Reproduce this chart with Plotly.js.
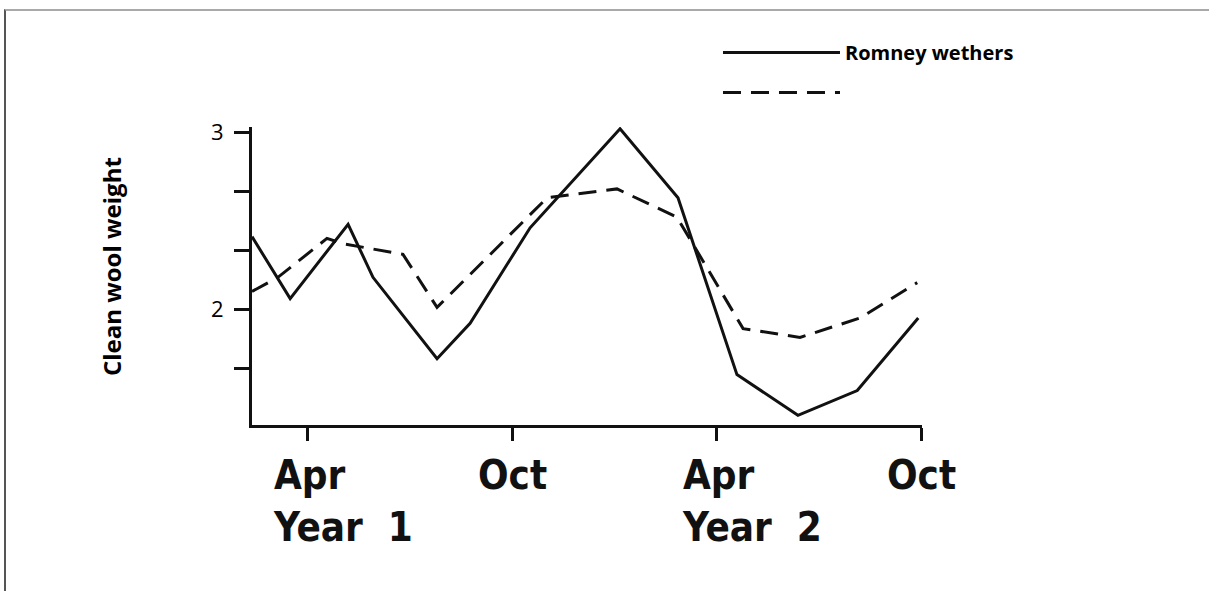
<!DOCTYPE html>
<html><head><meta charset="utf-8">
<script src="https://cdn.plot.ly/plotly-3.0.1.min.js"></script>
<style>
html,body{margin:0;padding:0;background:#fff;}
#wrap{position:relative;width:1209px;height:591px;overflow:hidden;}
#chart{width:1209px;height:591px;}
#frame{position:absolute;left:4px;top:9px;right:-5px;bottom:-5px;border-top:2px solid #a9a9a9;border-left:2px solid #555;pointer-events:none;}
</style>
</head><body>
<div id="wrap"><div id="chart"></div><div id="frame"></div></div>
<script>
// Months counted from January of Year 1 (Apr Y1 = 4, Oct Y1 = 10, Apr Y2 = 16, Oct Y2 = 22)
const monthsRomney = [2.36, 3.48, 5.18, 5.91, 7.79, 8.76, 10.52, 13.16, 14.86, 16.59, 18.38, 20.12, 21.91];
const weightRomney = [2.41, 2.06, 2.48, 2.18, 1.72, 1.92, 2.46, 3.02, 2.63, 1.63, 1.40, 1.54, 1.95];
const monthsOther  = [2.36, 3.12, 4.56, 5.03, 6.79, 7.79, 11.02, 13.07, 14.83, 16.77, 18.44, 20.20, 21.88];
const weightOther  = [2.10, 2.18, 2.40, 2.37, 2.31, 2.01, 2.63, 2.68, 2.52, 1.89, 1.84, 1.95, 2.15];
const seriesNames  = ['Romney wethers', ''];
const xTickVals    = [4, 10, 16, 22];
const xTickMonths  = ['Apr', 'Oct', 'Apr', 'Oct'];
const xTickYears   = ['Year\u00a0 1', '', 'Year\u00a0 2', ''];
const yTickVals    = [3, 2.667, 2.333, 2, 1.667];
const yTickText    = ['3', '', '', '2', ''];
const yAxisTitle   = 'Clean wool weight';

const ink = '#111111';
const traces = [
  {x: monthsRomney, y: weightRomney, name: seriesNames[0], legendgroup: 'a', mode: 'lines',
   line: {color: ink, width: 3}},
  {x: monthsOther, y: weightOther, name: seriesNames[1], legendgroup: 'b', mode: 'lines',
   line: {color: ink, width: 3, dash: '18px,10px'}}
];

const annotations = xTickVals.map((v, i) => ({
  x: v, xref: 'x', y: 0, yref: 'paper', yanchor: 'top',
  xanchor: xTickYears[i] ? 'left' : 'center', xshift: xTickYears[i] ? -37 : 0, yshift: -25,
  align: 'left', showarrow: false,
  text: xTickMonths[i] + (xTickYears[i] ? '<br>' + xTickYears[i] : ''),
  font: {family: 'DejaVu Sans Condensed, DejaVu Sans, sans-serif', size: 40, weight: 'bold', color: ink}
}));
annotations.push({
  text: yAxisTitle, textangle: -90, showarrow: false,
  xref: 'paper', yref: 'paper', x: -0.2104, y: 0.53, xanchor: 'center', yanchor: 'middle',
  font: {family: 'Open Sans, sans-serif', size: 24, weight: 'bold', color: '#000'}
});

const layout = {
  width: 1209, height: 591,
  margin: {l: 252, r: 287, t: 127, b: 166},
  paper_bgcolor: '#fff', plot_bgcolor: '#fff',
  showlegend: true,
  legend: {x: 0.6955, y: 1.3154, xanchor: 'left', yanchor: 'top', itemwidth: 117,
           traceorder: 'grouped', tracegroupgap: 11, bgcolor: 'rgba(0,0,0,0)',
           font: {family: 'Open Sans, sans-serif', size: 20, weight: 'bold', color: '#000'}},
  xaxis: {range: [2.36, 22.02], showline: true, linewidth: 3, linecolor: ink,
          ticks: 'outside', ticklen: 13, tickwidth: 3, tickcolor: ink,
          tickmode: 'array', tickvals: xTickVals, showticklabels: false,
          showgrid: false, zeroline: false, fixedrange: true},
  yaxis: {range: [1.345, 3.03], showline: true, linewidth: 3, linecolor: ink,
          ticks: 'outside', ticklen: 15, tickwidth: 3, tickcolor: ink,
          tickmode: 'array', tickvals: yTickVals, ticktext: yTickText, ticklabelstandoff: 6,
          tickfont: {family: 'Open Sans, sans-serif', size: 22, color: '#000'},
          showgrid: false, zeroline: false, fixedrange: true},
  annotations: annotations
};

Plotly.newPlot('chart', traces, layout, {displayModeBar: false, staticPlot: true});
</script>
</body></html>
